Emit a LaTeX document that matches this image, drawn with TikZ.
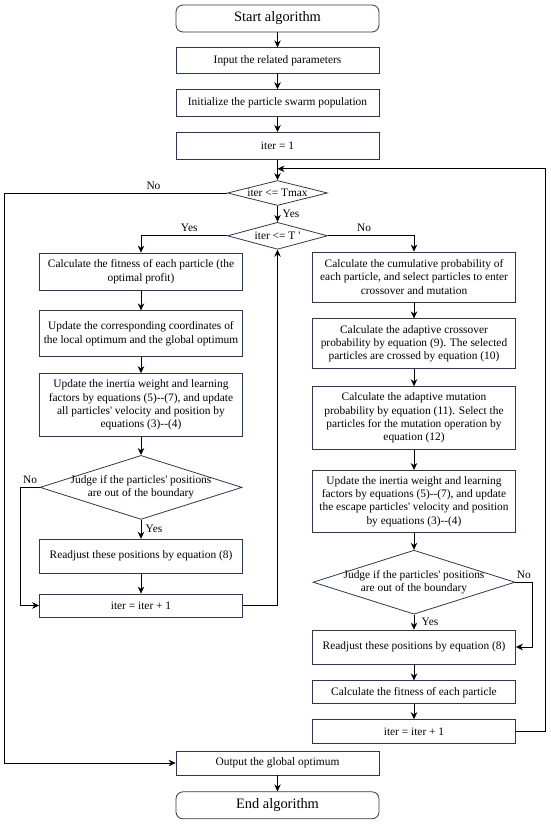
\documentclass[tikz,border=0pt]{standalone}
\usepackage{fontspec}
\setmainfont{Liberation Serif}
\usetikzlibrary{shapes.geometric,positioning,arrows.meta,calc}
\definecolor{slate}{RGB}{45,55,78}
\newcommand{\dd}{-\kern0pt-}
\newcommand{\ap}{\textquotesingle}

\begin{document}
\begin{tikzpicture}[x=1pt,y=-1pt,>={Stealth[length=7pt,width=6.5pt]},
  every node/.style={font=\fontsize{11.4}{13.4}\selectfont},
  box/.style={draw=slate,line width=0.8pt,rectangle,minimum width=203pt,align=center,inner sep=2pt},
  term/.style={box,rounded corners=7pt,minimum height=27pt,font=\fontsize{14.4}{16}\selectfont},
  test/.style={draw=slate,line width=0.8pt,diamond,align=center,inner sep=-1pt,shape aspect=4},
  bigtest/.style={test,shape aspect=3.15,inner xsep=-10pt,inner ysep=0pt,minimum width=202pt,minimum height=64pt},
  every path/.style={line width=0.8pt}]
  \useasboundingbox (0,0) rectangle (550,824);

  % main column
  \node[term] (start) at (277.5,18.5) {Start algorithm};
  \node[box,minimum height=26pt,below=15pt of start] (input) {Input the related parameters};
  \node[box,minimum height=27pt,below=15pt of input] (init) {Initialize the particle swarm population};
  \node[box,minimum height=27pt,below=15pt of init] (it1) {iter = 1};
  \node[test,minimum width=100pt,minimum height=25pt] (d1) at (277.5,193) {iter <= Tmax};
  \node[test,minimum width=100pt,minimum height=27pt,below=16pt of d1] (d2) {iter <= T \ap};
  \coordinate (join) at ($(it1.south)+(0,9)$);
  \coordinate (railL) at (4,0);
  \coordinate (railR) at (545.6,0);

  % left column (PSO update)
  \node[box,minimum height=37pt] (l1) at (141,271.5) {Calculate the fitness of each particle (the\\optimal profit)};
  \node[box,minimum height=46pt,below=20pt of l1] (l2) {Update the corresponding coordinates of\\the local optimum and the global optimum};
  \node[box,minimum height=63pt,below=16pt of l2] (l3) {Update the inertia weight and learning\\factors by equations (5)\dd(7), and update\\all particles\ap{} velocity and position by\\equations (3)\dd(4)};
  \node[bigtest,below=18pt of l3] (ld) {Judge if the particles\ap{} positions\\are out of the boundary};
  \node[box,minimum height=34pt,below=19pt of ld] (l4) {Readjust these positions by equation (8)};
  \node[box,minimum height=23pt,below=20pt of l4] (l5) {iter = iter + 1};

  % right column (GA operators)
  \node[box,minimum height=50pt] (r1) at (414,277) {Calculate the cumulative probability of\\each particle, and select particles to enter\\crossover and mutation};
  \node[box,minimum height=50pt,below=16pt of r1] (r2) {Calculate the adaptive crossover\\probability by equation (9). The selected\\particles are crossed by equation (10)};
  \node[box,minimum height=63pt,below=17pt of r2] (r3) {Calculate the adaptive mutation\\probability by equation (11). Select the\\particles for the mutation operation by\\equation (12)};
  \node[box,minimum height=62pt,below=20pt of r3] (r4) {Update the inertia weight and learning\\factors by equations (5)\dd(7), and update\\the escape particles\ap{} velocity and position\\by equations (3)\dd(4)};
  \node[bigtest,below=17pt of r4] (rd) {Judge if the particles\ap{} positions\\are out of the boundary};
  \node[box,minimum height=34pt,below=15pt of rd] (r5) {Readjust these positions by equation (8)};
  \node[box,minimum height=23pt,below=16pt of r5] (r6) {Calculate the fitness of each particle};
  \node[box,minimum height=24pt,below=15pt of r6] (r7) {iter = iter + 1};

  % end
  \node[box,minimum height=24pt] (out) at (277.5,763) {Output the global optimum};
  \node[term,below=16pt of out] (stop) {End algorithm};

  \draw[->] (start) -- (input);
  \draw[->] (input) -- (init);
  \draw[->] (init) -- (it1);
  \draw[->] (it1) -- (d1);
  \draw[->] (d1) -- node[right=1.5pt] {Yes} (d2);
  \draw[->] (d1.west) -- node[pos=0.33,above] {No} (d1.west -| railL) |- (out.west);
  \draw[->] (d2.west) -| node[pos=0.22,above] {Yes} (l1.north);
  \draw[->] (d2.east) -| node[pos=0.21,above] {No} (r1.north);

  \draw[->] (l1) -- (l2);
  \draw[->] (l2) -- (l3);
  \draw[->] (l3) -- (ld);
  \draw[->] (ld) -- node[right=1pt] {Yes} (l4);
  \draw[->] (l4) -- (l5);
  \draw[->] (ld.west) -- ++(-19,0) node[midway,above] {No} |- (l5.west);
  \draw[->] (l5.east) -| (d2.south);

  \draw[->] (r1) -- (r2);
  \draw[->] (r2) -- (r3);
  \draw[->] (r3) -- (r4);
  \draw[->] (r4) -- (rd);
  \draw[->] (rd) -- node[right=4pt] {Yes} (r5);
  \draw[->] (r5) -- (r6);
  \draw[->] (r6) -- (r7);
  \draw[->] (rd.east) -- ++(17,0) node[midway,above] {No} |- (r5.east);
  \draw[->] (r7.east) -- (r7.east -| railR) |- (join);

  \draw[->] (out) -- (stop);
\end{tikzpicture}
\end{document}
